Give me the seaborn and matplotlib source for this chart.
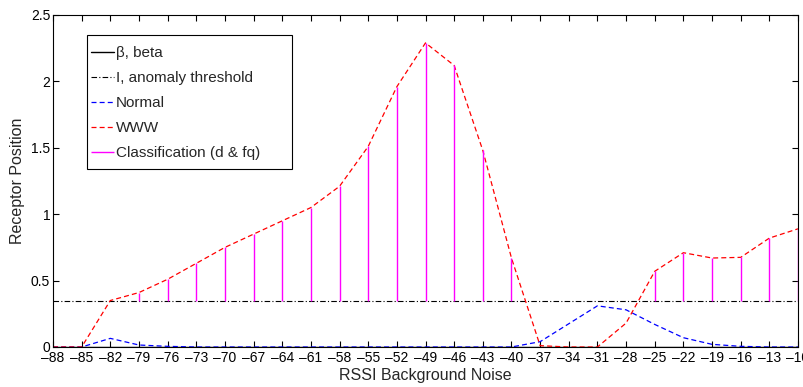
import numpy as np
import pandas as pd
import matplotlib
matplotlib.use("Agg")
import matplotlib.pyplot as plt
from matplotlib.patches import Rectangle
import seaborn as sns

# ---- data ----
rssi = [-88, -85, -82, -79, -76, -73, -70, -67, -64, -61, -58, -55, -52, -49,
        -46, -43, -40, -37, -34, -31, -28, -25, -22, -19, -16, -13, -10]
www = [0.0, 0.0, 0.35, 0.41, 0.51, 0.63, 0.75, 0.85, 0.95, 1.05, 1.21, 1.51,
       1.96, 2.29, 2.12, 1.48, 0.67, 0.01, 0.0, 0.0, 0.18, 0.57, 0.71, 0.67,
       0.675, 0.82, 0.89]
normal = [0.0, 0.0, 0.065, 0.015, 0.005, 0.0, 0.0, 0.0, 0.0, 0.0, 0.0, 0.0,
          0.0, 0.0, 0.0, 0.0, 0.0, 0.04, 0.175, 0.31, 0.28, 0.17, 0.07, 0.02,
          0.005, 0.0, 0.0]
beta = [0.0] * len(rssi)
threshold = 0.345
y_ticks = [0, 0.5, 1, 1.5, 2, 2.5]
y_tick_labels = ["0", "0.5", "1", "1.5", "2", "2.5"]

df = pd.DataFrame({"rssi": rssi, "www": www, "normal": normal, "beta": beta,
                   "thr": [threshold] * len(rssi)})

sns.set_style("white")
plt.rcParams["font.family"] = ["Liberation Sans", "DejaVu Sans"]

fig = plt.figure(figsize=(8.04, 3.87), dpi=100)
ax = fig.add_axes([53 / 804, 1 - 347 / 387, (798 - 53) / 804, (347 - 15) / 387])

dash = (0, (4, 2.5))
sns.lineplot(data=df, x="rssi", y="beta", ax=ax, color="black", lw=1.0,
             label="\u03b2, beta")
sns.lineplot(data=df, x="rssi", y="thr", ax=ax, color="black", lw=0.8,
             linestyle=(0, (5, 2, 1, 2)), label="I, anomaly threshold")
sns.lineplot(data=df, x="rssi", y="normal", ax=ax, color="blue", lw=0.9,
             linestyle=dash, label="Normal")
sns.lineplot(data=df, x="rssi", y="www", ax=ax, color="red", lw=0.9,
             linestyle=dash, label="WWW")

cls = df[df["www"] > threshold]
ax.vlines(cls["rssi"], threshold, cls["www"], color="magenta", lw=1.0,
          label="Classification (d & fq)")

ax.set_xlim(-88, -10)
ax.set_ylim(0, 2.5)
ax.set_xticks(rssi)
ax.set_xticklabels([("\u2013" + str(-v)) if v < 0 else str(v) for v in rssi])
ax.set_yticks(y_ticks)
ax.set_yticklabels(y_tick_labels)
ax.tick_params(direction="in", length=4, width=0.8, top=True, right=True,
               bottom=True, left=True, labelsize=10, pad=3, colors="black")
ax.tick_params(axis="y", pad=2)
for s in ax.spines.values():
    s.set_color("black")
    s.set_linewidth(0.8)
ax.set_xlabel("RSSI Background Noise", fontsize=11.5, labelpad=2)
ax.set_ylabel("Receptor Position", fontsize=11.5, labelpad=4)

# legend frame (MATLAB-style box with wider right padding)
frame = Rectangle((87 / 804, 1 - 169 / 387), 205 / 804, 134 / 387,
                  transform=fig.transFigure, facecolor="white",
                  edgecolor="black", lw=0.8, zorder=4)
ax.add_artist(frame)
frame.set_clip_on(False)

leg = ax.legend(loc="upper left", bbox_to_anchor=(91 / 804, 1 - 46 / 387),
                bbox_transform=fig.transFigure, fontsize=11, frameon=False,
                handlelength=1.5, handletextpad=0.15, labelspacing=0.72,
                borderpad=0, borderaxespad=0)
leg.set_zorder(5)

fig.savefig("out.png", dpi=100)
